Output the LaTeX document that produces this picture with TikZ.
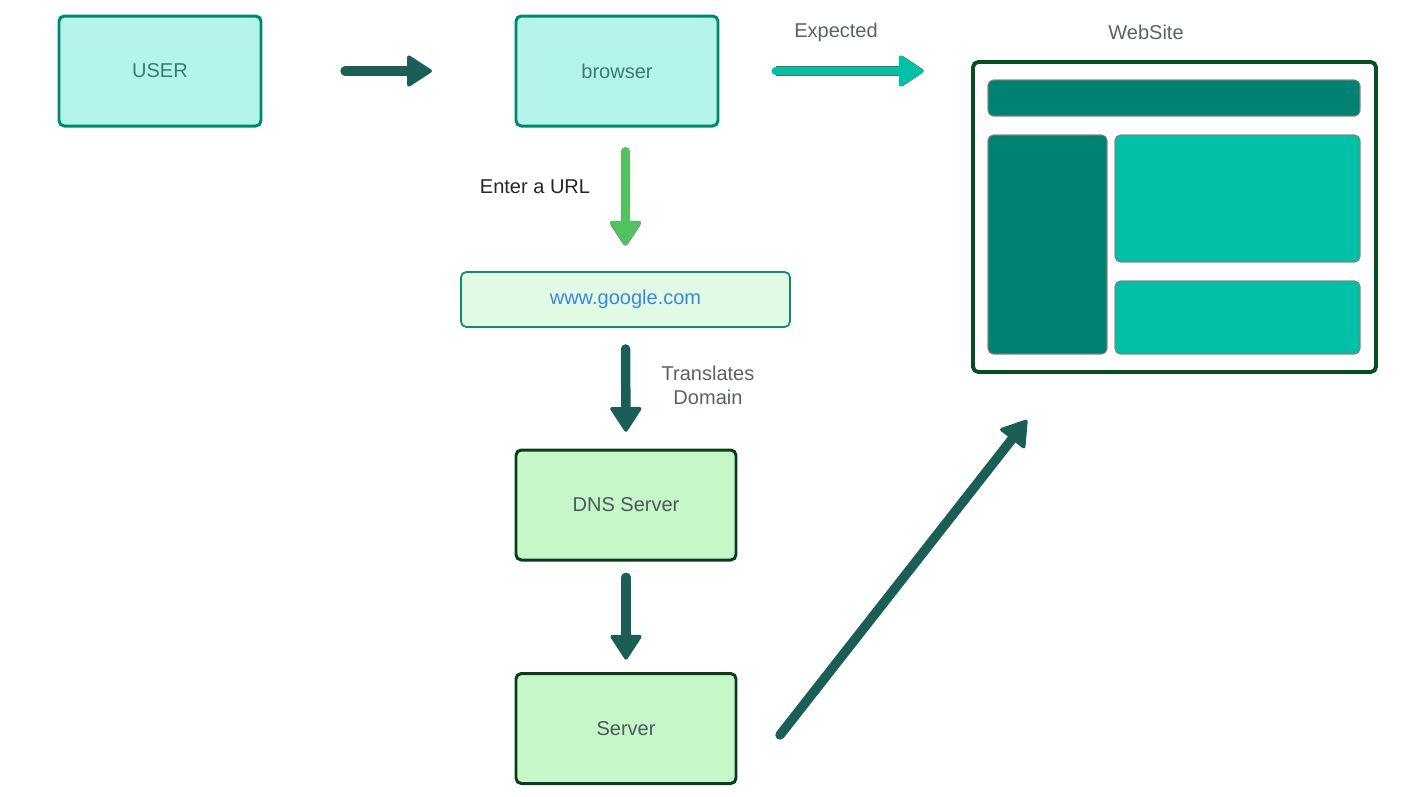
\documentclass[tikz,border=0pt]{standalone}
\usepackage{fontspec}
\setmainfont{Liberation Sans}
\usetikzlibrary{arrows.meta}

\definecolor{userfill}{HTML}{B5F4EA}
\definecolor{useredge}{HTML}{00876F}
\definecolor{usertext}{HTML}{3A7C72}
\definecolor{urlfill}{HTML}{E2F9E3}
\definecolor{urledge}{HTML}{138A72}
\definecolor{urltext}{HTML}{3A87E0}
\definecolor{dnsfill}{HTML}{C5F7C9}
\definecolor{dnsedge}{HTML}{0B3B17}
\definecolor{sitedge}{HTML}{0A4D1E}
\definecolor{darkpanel}{HTML}{008272}
\definecolor{lightpanel}{HTML}{00C1A8}
\definecolor{darkarrow}{HTML}{1A5E55}
\definecolor{tealarrow}{HTML}{00C0A5}
\definecolor{greenarrow}{HTML}{52C160}
\definecolor{labeltext}{HTML}{5A6169}

\tikzset{
  every node/.style={font=\fontsize{11.4}{13.7}\selectfont},
  userbox/.style={draw=useredge, fill=userfill, line width=1.7pt, rounded corners=3pt,
    minimum width=202*0.02cm, minimum height=110*0.02cm, text=usertext},
  urlbox/.style={draw=urledge, fill=urlfill, line width=1pt, rounded corners=3pt,
    minimum width=329*0.02cm, minimum height=55*0.02cm, text=urltext},
  dnsbox/.style={draw=dnsedge, fill=dnsfill, line width=1.7pt, rounded corners=3pt,
    minimum width=220*0.02cm, minimum height=110*0.02cm, text=labeltext!90!black},
  panel/.style={draw=gray, line width=0.4pt, rounded corners=3pt},
  fatarrow/.style={line width=5.4pt, line cap=round, darkarrow,
    -{Triangle[round, line width=2pt, length=15pt, width=19pt]}},
  rimarrow/.style={line width=4.8pt, line cap=round,
    -{Triangle[round, line width=2pt, length=15pt, width=19pt]},
    preaction={draw=gray!80!black, line width=5.6pt,
      -{Triangle[round, line width=2.8pt, length=15pt, width=19pt]}}},
}

\begin{document}
\begin{tikzpicture}[x=0.02cm, y=-0.02cm]
  \useasboundingbox (0,0) rectangle (1421,796);

  % boxes
  \node[userbox] (user) at (160,71) {USER};
  \node[userbox] (browser) at (617,71) {browser};
  \node[urlbox] (url) at (625.5,299.5) {www.google.com};
  \node[dnsbox] (dns) at (626,505) {DNS Server};
  \node[dnsbox] (server) at (626,728.5) {Server};

  % website mockup
  \node[draw=sitedge, line width=2.2pt, rounded corners=3pt, fill=white,
    minimum width=403*0.02cm, minimum height=310*0.02cm] (site) at (1174.5,217) {};
  \fill[panel, fill=darkpanel] (988,80) rectangle (1360,116);
  \fill[panel, fill=darkpanel] (988,135) rectangle (1107,354);
  \fill[panel, fill=lightpanel] (1115,135) rectangle (1360,262);
  \fill[panel, fill=lightpanel] (1115,281) rectangle (1360,354);
  \draw[panel] (988,80) rectangle (1360,116);
  \draw[panel] (988,135) rectangle (1107,354);
  \draw[panel] (1115,135) rectangle (1360,262);
  \draw[panel] (1115,281) rectangle (1360,354);

  % labels
  \node[text=labeltext] (expected) at (836,32) {Expected};
  \node[text=labeltext] (sitelabel) at (1146,32) {WebSite};
  \node[text=black!85] (enterurl) at (535,187) {Enter a URL};
  \node[text=labeltext, align=center] (translates) at (708,385) {Translates\\Domain};

  % connectors
  \coordinate (srvout) at (780,735);
  \coordinate (sitein) at (1027,420);
  \draw[fatarrow, shorten <=47pt, shorten >=47pt] (user.east) -- (browser.west);
  \draw[rimarrow, tealarrow, shorten <=32pt, shorten >=27pt]
    (browser.east) -- (browser.east -| site.west);
  \draw[rimarrow, greenarrow, shorten <=13.5pt, shorten >=14.5pt]
    (browser.south -| url.north) -- (url.north);
  \draw[fatarrow, shorten <=12pt, shorten >=9.5pt] (url.south) -- (dns.north);
  \draw[fatarrow, shorten <=9pt, shorten >=7pt] (dns.south) -- (server.north);
  \draw[fatarrow] (srvout) -- (sitein);
\end{tikzpicture}
\end{document}
